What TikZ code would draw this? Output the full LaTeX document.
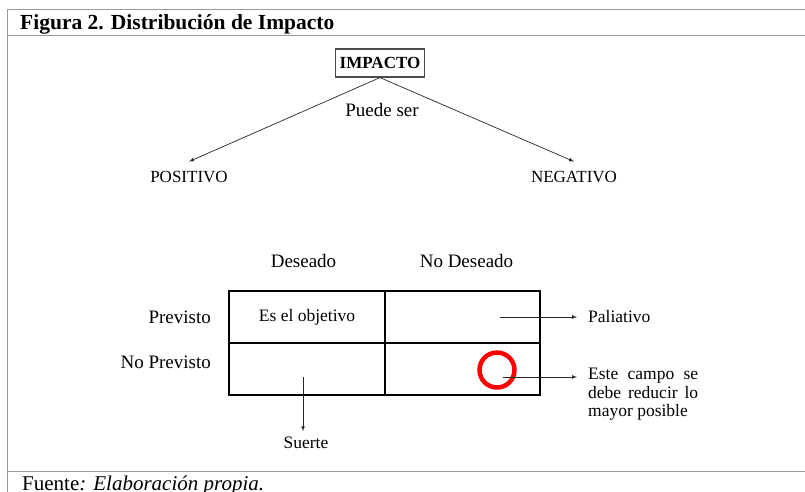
\documentclass[tikz,border=0pt]{standalone}
\usepackage{fontspec}
\setmainfont{Liberation Serif}
\usetikzlibrary{arrows,positioning}
\tikzset{
    cell/.style = {draw, rectangle, line width=1.2pt,
        outer sep=0pt, inner sep=0pt,
        minimum width=156pt,
        minimum height=52pt,
        font=\fontsize{17.5}{18.5}\selectfont},
    tag/.style = {anchor=base, inner sep=2pt, font=\fontsize{19}{22}\selectfont},
    kind/.style = {anchor=base, inner xsep=2pt, inner ysep=9pt, font=\fontsize{17}{20}\selectfont},
    note/.style = {inner xsep=11pt, inner ysep=5pt, font=\fontsize{17.5}{18.5}\selectfont},
    frame/.style = {draw=black!40, line width=1pt},
    link/.style = {draw=black!85, line width=0.7pt, ->},
}

\begin{document}
\begin{tikzpicture}[x=1pt, y=-1pt, >=latex]
		\useasboundingbox (0,0) rectangle (805,492);
		\clip (0,0) rectangle (805,492);
		% frame round the figure
		\draw [frame] (805,10) -- (7,10) -- (7,492);
		\draw [frame] (7,36) -- (805,36);
		\draw [frame] (7,471) -- (805,471);
		% title and source
		\node [anchor=base west, inner sep=0pt, font=\fontsize{21.5}{25}\selectfont\bfseries] (title) at (20,30) {Figura 2. Distribución de Impacto};
		\node [anchor=base west, inner sep=0pt, font=\fontsize{21}{25}\selectfont] (source) at (22,490) {Fuente\textit{: Elaboración propia.}};
		
		% impacto box
		\node [draw=black!70, line width=1.2pt, minimum width=89pt, minimum height=28pt, inner sep=0pt, font=\fontsize{17}{19}\selectfont\bfseries] (impacto) at (380,63) {IMPACTO};
		\node [tag] (puede) at (382,117) {Puede ser};
		% the two kinds
		\node [kind] (positivo) at (189,182) {POSITIVO};
		\node [kind] (negativo) at (574,182) {NEGATIVO};
		
		% table cells
		\node [cell] (c11) at (307,317) {Es el objetivo};
		\node [cell, right=0pt of c11, minimum width=155pt] (c12) {};
		\node [cell, below=0pt of c11] (c21) {};
		\node [cell, below=0pt of c12, minimum width=155pt] (c22) {};
		
		% column and row heads
		\node [tag] (deseado) at (303.5,267) {Deseado};
		\node [tag] (nodeseado) at (466.5,267) {No Deseado};
		\node [tag, anchor=base east] (previsto) at (213,323) {Previsto};
		\node [tag, anchor=base east] (noprevisto) at (213,368) {No Previsto};
		
		% red ring
		\node [circle, draw=red, line width=4.5pt, minimum size=35pt, inner sep=0pt] (ring) at (497,370) {};
		
		% start points inside the cells
		\coordinate (palstart) at (500,317);
		\coordinate (ringstart) at (503,377);
		\coordinate (luckstart) at (303,377);
		
		% notes on the right and below
		\node [note, anchor=base west] (paliativo) at (577,322) {Paliativo};
		\node [note, anchor=north west, text width=110pt, align=justify] (reducir) at (577,363) {Este campo se debe reducir lo mayor posible};
		\node [note, anchor=base] (suerte) at (306,448) {Suerte};
		
		% connecting lines
		\draw [link] (impacto.south) -- (positivo.north);
		\draw [link] (impacto.south) -- (negativo.north);
		\draw [link] (palstart) -- (palstart -| paliativo.west);
		\draw [link] (ringstart) -- (ringstart -| reducir.west);
		\draw [link] (luckstart) -- (luckstart |- suerte.north);
	\end{tikzpicture}
\end{document}
